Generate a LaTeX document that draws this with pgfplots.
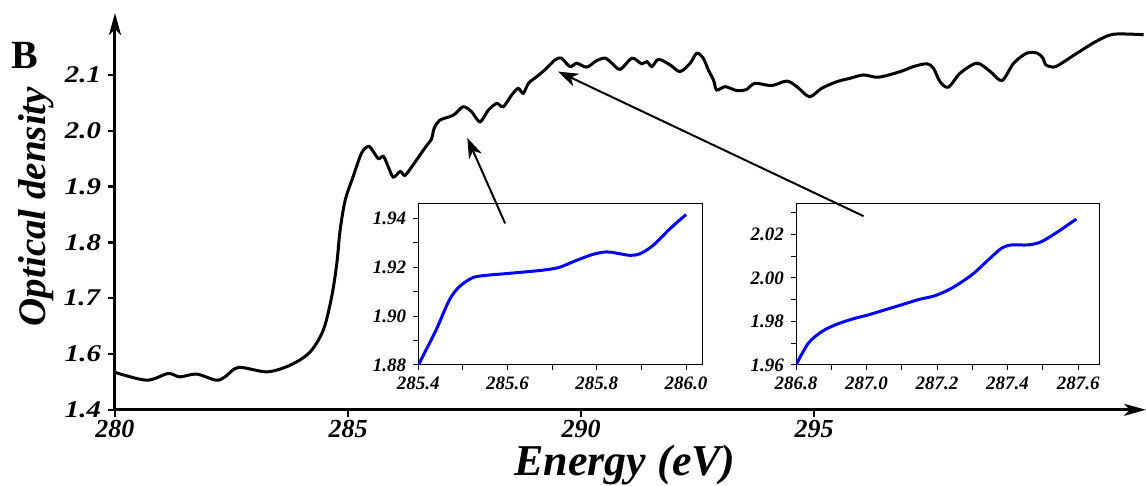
\documentclass[border=0pt]{standalone}
\usepackage{fontspec}
\setmainfont{Liberation Serif}
\usepackage{graphicx}
\usepackage{pgfplots}
\pgfplotsset{compat=1.18}
\usetikzlibrary{arrows.meta}
\newcommand{\tl}[1]{\textbf{\textit{#1}}}
\newcommand{\ytl}[1]{\scalebox{1.2}[1]{\textbf{\textit{#1}}}}

\begin{document}
\begin{tikzpicture}
\begin{axis}[
 at={(0,0)}, anchor=south west,
 scale only axis, width=515.5pt, height=198.4pt,
 xmin=280, xmax=302.12, ymin=1.5, ymax=2.211,
 axis x line=bottom, axis y line=left,
 axis line style={line width=1.5pt, -{Stealth[length=11pt,width=6pt,inset=3pt]}},
 xtick={280,285,290,295},
 xticklabels={\tl{280},\tl{285},\tl{290},\tl{295}},
 ytick={1.5,1.6,1.7,1.8,1.9,2.0,2.1},
 yticklabels={\ytl{1.4},\ytl{1.6},\ytl{1.7},\ytl{1.8},\ytl{1.9},\ytl{2.0},\ytl{2.1}},
 tick align=outside, major tick length=3.5pt,
 tick style={line width=1.2pt, black},
 x tick label style={font=\fontsize{13}{15}\selectfont, inner sep=1pt, yshift=-0.5pt},
 y tick label style={font=\fontsize{12}{14}\selectfont},
 clip=false,
]
\addplot[line width=1.5pt, smooth, tension=0.5] coordinates {
(280.00,1.567) (280.68,1.553) (281.14,1.565) (281.39,1.559) (281.75,1.564)
(282.17,1.553) (282.36,1.559) (282.65,1.576) (283.26,1.568) (283.76,1.580)
(284.18,1.603) (284.47,1.643) (284.65,1.703) (284.76,1.763) (284.83,1.822)
(284.94,1.876) (285.11,1.918) (285.29,1.960) (285.44,1.972) (285.54,1.963)
(285.65,1.950) (285.76,1.954) (285.86,1.936) (285.97,1.917) (286.12,1.927)
(286.22,1.920) (286.38,1.937) (286.53,1.955) (286.70,1.975) (286.79,1.985)
(286.85,2.005) (286.97,2.019) (287.26,2.028) (287.47,2.043) (287.65,2.034)
(287.83,2.016) (288.01,2.037) (288.19,2.049) (288.33,2.043) (288.51,2.064)
(288.65,2.076) (288.76,2.067) (288.87,2.085) (289.05,2.097) (289.26,2.112)
(289.44,2.127) (289.58,2.130) (289.76,2.115) (289.91,2.121) (290.12,2.114)
(290.34,2.126) (290.52,2.130) (290.66,2.121) (290.84,2.110) (291.09,2.130)
(291.30,2.120) (291.41,2.124) (291.52,2.115) (291.66,2.128) (291.91,2.118)
(292.12,2.106) (292.34,2.121) (292.48,2.139) (292.62,2.130) (292.73,2.109)
(292.84,2.091) (292.91,2.073) (293.09,2.079) (293.34,2.072) (293.55,2.074)
(293.73,2.085) (294.09,2.081) (294.41,2.089) (294.63,2.079) (294.90,2.061)
(295.16,2.076) (295.49,2.088) (295.77,2.094) (296.06,2.100) (296.38,2.096)
(296.85,2.106) (297.13,2.115) (297.42,2.120) (297.56,2.112) (297.70,2.088)
(297.88,2.078) (298.13,2.103) (298.49,2.121) (298.78,2.106) (299.03,2.090)
(299.28,2.121) (299.56,2.139) (299.79,2.139) (299.91,2.130) (299.96,2.119)
(300.06,2.115) (300.21,2.116) (300.64,2.139) (301.07,2.161) (301.43,2.173)
(302.07,2.172)
};
\coordinate (A1s) at (axis cs:288.37,1.834);
\coordinate (A1e) at (axis cs:287.56,1.987);
\coordinate (A2s) at (axis cs:296.06,1.847);
\coordinate (A2e) at (axis cs:289.51,2.106);
\end{axis}

\begin{axis}[
 at={(151.65pt,22.4pt)}, anchor=south west,
 scale only axis, width=142.35pt, height=80.85pt,
 xmin=285.4, xmax=286.038, ymin=1.88, ymax=1.9462,
 axis line style={line width=0.5pt},
 xtick={285.4,285.6,285.8,286.0},
 xticklabels={\tl{285.4},\tl{285.6},\tl{285.8},\tl{286.0}},
 minor xtick={285.5,285.7,285.9},
 ytick={1.88,1.90,1.92,1.94},
 yticklabels={\tl{1.88},\tl{1.90},\tl{1.92},\tl{1.94}},
 minor ytick={1.89,1.91,1.93},
 xtick pos=left, ytick pos=left,
 tick align=outside, major tick length=2.5pt, minor tick length=2.5pt,
 tick style={line width=0.5pt, black},
 ticklabel style={font=\fontsize{9.5}{11}\selectfont},
]
\addplot[line width=1.5pt, blue, smooth] coordinates {
(285.4,1.880) (285.439,1.894) (285.469,1.9064) (285.4915,1.912) (285.5215,1.9157)
(285.5515,1.9167) (285.5965,1.9174) (285.6565,1.9184) (285.6865,1.919) (285.7165,1.920)
(285.754,1.9228) (285.7915,1.9253) (285.8215,1.9263) (285.844,1.9258) (285.874,1.9249)
(285.8965,1.9255) (285.9265,1.929) (285.964,1.9358) (286.0,1.9416)
};
\end{axis}

\begin{axis}[
 at={(340.5pt,22.4pt)}, anchor=south west,
 scale only axis, width=151.65pt, height=80.85pt,
 xmin=286.8, xmax=287.66, ymin=1.96, ymax=2.0342,
 axis line style={line width=0.5pt},
 xtick={286.8,287.0,287.2,287.4,287.6},
 xticklabels={\tl{286.8},\tl{287.0},\tl{287.2},\tl{287.4},\tl{287.6}},
 minor xtick={286.9,287.1,287.3,287.5},
 ytick={1.96,1.98,2.00,2.02},
 yticklabels={\tl{1.96},\tl{1.98},\tl{2.00},\tl{2.02}},
 minor ytick={1.97,1.99,2.01,2.03},
 xtick pos=left, ytick pos=left,
 tick align=outside, major tick length=2.5pt, minor tick length=2.5pt,
 tick style={line width=0.5pt, black},
 ticklabel style={font=\fontsize{9.5}{11}\selectfont},
]
\addplot[line width=1.5pt, blue, smooth] coordinates {
(286.8,1.960) (286.835,1.970) (286.873,1.9753) (286.911,1.9784) (286.958,1.981)
(287.005,1.983) (287.052,1.9853) (287.099,1.9876) (287.147,1.990) (287.194,1.9918)
(287.241,1.9952) (287.298,2.0013) (287.345,2.0082) (287.383,2.0136) (287.411,2.0151)
(287.458,2.0151) (287.496,2.0166) (287.543,2.0212) (287.595,2.027)
};
\end{axis}

\draw[line width=1pt, -{Stealth[length=10pt,width=7pt,inset=3pt]}] (A1s) -- (A1e);
\draw[line width=1pt, -{Stealth[length=10pt,width=7pt,inset=3pt]}] (A2s) -- (A2e);

\node at (-45pt,177.4pt) {\fontsize{20}{24}\selectfont\bfseries B};
\node[rotate=90] at (-39.5pt,101.6pt) {\fontsize{19.5}{22}\selectfont\bfseries\itshape Optical density};
\node[inner sep=0pt] at (255pt,-27.8pt) {\fontsize{22}{26}\selectfont\bfseries\itshape Energy (eV)};

\pgfresetboundingbox
\path[use as bounding box] (-57.5pt,-38.1pt) rectangle (515.5pt,204.9pt);
\end{tikzpicture}
\end{document}
